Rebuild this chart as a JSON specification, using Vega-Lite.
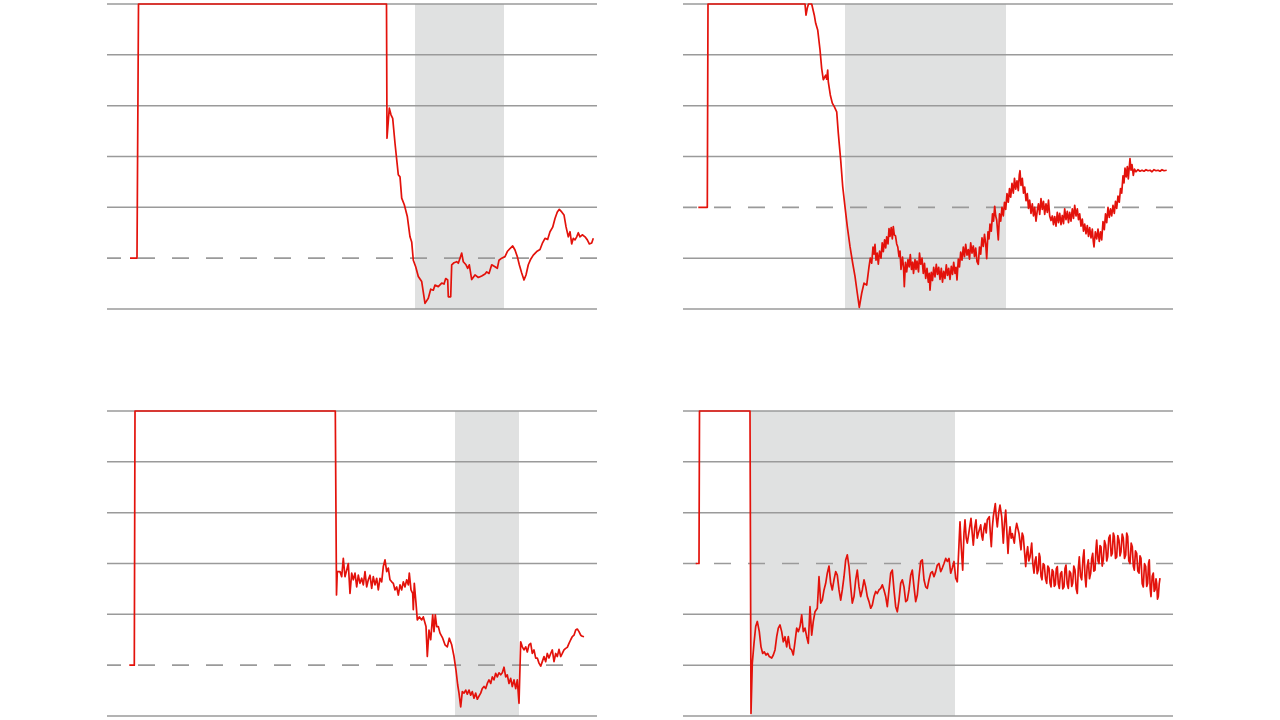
{
"$schema":"https://vega.github.io/schema/vega-lite/v6.json",
"padding":{"left":106,"top":3,"right":0,"bottom":0},
"background":"white",
"config":{"view":{"stroke":null}},
"datasets":{
"tl":[{"d":23,"v":1},{"d":30,"v":1},{"d":31.5,"v":6},{"d":279.5,"v":6},{"d":280,"v":3.36},{"d":282.3,"v":3.95},{"d":284,"v":3.82},{"d":285.7,"v":3.75},{"d":288,"v":3.26},{"d":291.3,"v":2.64},{"d":293,"v":2.6},{"d":294.7,"v":2.18},{"d":297.3,"v":2.05},{"d":300.3,"v":1.82},{"d":303,"v":1.42},{"d":304.7,"v":1.32},{"d":306.3,"v":0.96},{"d":308.7,"v":0.83},{"d":311.3,"v":0.64},{"d":314.7,"v":0.54},{"d":318,"v":0.11},{"d":321.3,"v":0.21},{"d":323.7,"v":0.39},{"d":326.3,"v":0.37},{"d":328,"v":0.47},{"d":331.3,"v":0.44},{"d":334.7,"v":0.51},{"d":337,"v":0.49},{"d":338.7,"v":0.6},{"d":340.7,"v":0.57},{"d":341.3,"v":0.24},{"d":343.7,"v":0.24},{"d":344.7,"v":0.87},{"d":347,"v":0.91},{"d":349.7,"v":0.93},{"d":351.3,"v":0.9},{"d":353,"v":1.0},{"d":354.7,"v":1.1},{"d":356.3,"v":0.93},{"d":359,"v":0.87},{"d":360.7,"v":0.8},{"d":362.3,"v":0.87},{"d":364.7,"v":0.58},{"d":368,"v":0.67},{"d":371.3,"v":0.62},{"d":374.7,"v":0.65},{"d":378,"v":0.69},{"d":379.7,"v":0.73},{"d":382,"v":0.7},{"d":384.7,"v":0.87},{"d":388,"v":0.83},{"d":390.3,"v":0.8},{"d":392,"v":0.96},{"d":394.7,"v":1.0},{"d":398,"v":1.03},{"d":400.3,"v":1.13},{"d":403,"v":1.19},{"d":405.7,"v":1.24},{"d":408,"v":1.16},{"d":410.3,"v":1.03},{"d":412.3,"v":0.87},{"d":414.7,"v":0.71},{"d":417,"v":0.57},{"d":419,"v":0.67},{"d":421.3,"v":0.87},{"d":423.7,"v":0.98},{"d":426.3,"v":1.06},{"d":429.7,"v":1.13},{"d":433,"v":1.17},{"d":435.3,"v":1.29},{"d":438,"v":1.39},{"d":440.7,"v":1.37},{"d":443,"v":1.52},{"d":445.7,"v":1.61},{"d":448,"v":1.78},{"d":450.3,"v":1.91},{"d":452.3,"v":1.96},{"d":454.7,"v":1.91},{"d":457,"v":1.85},{"d":459,"v":1.62},{"d":461.3,"v":1.42},{"d":463,"v":1.52},{"d":464.7,"v":1.28},{"d":466.3,"v":1.39},{"d":468,"v":1.36},{"d":469.7,"v":1.42},{"d":471.3,"v":1.5},{"d":473,"v":1.42},{"d":475.3,"v":1.46},{"d":478,"v":1.42},{"d":480.3,"v":1.36},{"d":482.3,"v":1.28},{"d":484.7,"v":1.3},{"d":486.3,"v":1.39}],
"tr":[{"d":15.3,"v":2},{"d":24.3,"v":2},{"d":25,"v":6},{"d":121.3,"v":6},{"d":122,"v":6},{"d":123,"v":5.78},{"d":124.3,"v":5.92},{"d":125.5,"v":6},{"d":128.7,"v":6},{"d":131.3,"v":5.78},{"d":132.7,"v":5.62},{"d":134.7,"v":5.49},{"d":137,"v":5.1},{"d":138.7,"v":4.73},{"d":140.3,"v":4.51},{"d":142.7,"v":4.6},{"d":143.7,"v":4.52},{"d":144.7,"v":4.7},{"d":145.3,"v":4.47},{"d":147.3,"v":4.21},{"d":149.3,"v":4.05},{"d":151.3,"v":3.98},{"d":153.7,"v":3.88},{"d":155.3,"v":3.46},{"d":157.7,"v":2.93},{"d":159.7,"v":2.41},{"d":162,"v":2.01},{"d":164.3,"v":1.62},{"d":167,"v":1.23},{"d":169.7,"v":0.9},{"d":172,"v":0.64},{"d":174.3,"v":0.31},{"d":176.3,"v":0.03},{"d":178.7,"v":0.31},{"d":181,"v":0.51},{"d":183.7,"v":0.47},{"d":186,"v":0.83},{"d":187.3,"v":1.0},{"d":188.7,"v":0.9},{"d":190,"v":1.22},{"d":191,"v":1.08},{"d":192,"v":1.27},{"d":193,"v":0.96},{"d":194.2,"v":1.1},{"d":195.3,"v":0.88},{"d":196.6,"v":1.14},{"d":198,"v":1.0},{"d":199.2,"v":1.3},{"d":200.3,"v":1.13},{"d":201.6,"v":1.36},{"d":202.7,"v":1.2},{"d":203.7,"v":1.42},{"d":205,"v":1.28},{"d":206,"v":1.58},{"d":207,"v":1.43},{"d":208.2,"v":1.6},{"d":209.3,"v":1.38},{"d":210.3,"v":1.62},{"d":211.3,"v":1.46},{"d":212.5,"v":1.44},{"d":213.7,"v":1.28},{"d":214.8,"v":1.22},{"d":216,"v":1.03},{"d":217,"v":1.14},{"d":218,"v":0.78},{"d":219.5,"v":1.02},{"d":220.5,"v":0.83},{"d":221.3,"v":0.44},{"d":222.5,"v":0.92},{"d":223.7,"v":0.73},{"d":225,"v":0.97},{"d":226.2,"v":0.83},{"d":227.3,"v":1.07},{"d":228.5,"v":0.78},{"d":229.7,"v":0.92},{"d":230.5,"v":0.7},{"d":232,"v":0.97},{"d":233,"v":0.78},{"d":234,"v":0.94},{"d":235.5,"v":0.73},{"d":236.5,"v":1.1},{"d":237.7,"v":0.88},{"d":239,"v":1.0},{"d":240.3,"v":0.7},{"d":241.5,"v":0.9},{"d":242.7,"v":0.6},{"d":244,"v":0.8},{"d":245.3,"v":0.53},{"d":246.3,"v":0.7},{"d":247,"v":0.37},{"d":248.3,"v":0.72},{"d":249.5,"v":0.56},{"d":250.7,"v":0.82},{"d":252,"v":0.63},{"d":253.3,"v":0.88},{"d":254.5,"v":0.68},{"d":255.7,"v":0.82},{"d":257,"v":0.58},{"d":258.3,"v":0.8},{"d":259.5,"v":0.53},{"d":260.7,"v":0.74},{"d":262,"v":0.6},{"d":263.3,"v":0.87},{"d":264.5,"v":0.66},{"d":265.7,"v":0.8},{"d":267,"v":0.58},{"d":268.3,"v":0.84},{"d":269.5,"v":0.68},{"d":270.7,"v":0.92},{"d":272,"v":0.7},{"d":273,"v":0.82},{"d":274,"v":0.57},{"d":275.3,"v":0.98},{"d":276.5,"v":0.83},{"d":277.7,"v":1.12},{"d":279,"v":0.96},{"d":280.3,"v":1.22},{"d":281.5,"v":1.03},{"d":282.7,"v":1.27},{"d":284,"v":1.06},{"d":285.3,"v":1.17},{"d":286.5,"v":0.98},{"d":287.7,"v":1.3},{"d":289,"v":1.1},{"d":290.3,"v":1.24},{"d":291.5,"v":1.03},{"d":292.7,"v":1.2},{"d":294,"v":0.93},{"d":295.3,"v":0.88},{"d":296.5,"v":1.22},{"d":297.7,"v":1.08},{"d":299,"v":1.4},{"d":300.3,"v":1.23},{"d":301.5,"v":1.47},{"d":302.7,"v":1.28},{"d":303.7,"v":0.99},{"d":305,"v":1.52},{"d":306,"v":1.38},{"d":307,"v":1.67},{"d":308.3,"v":1.53},{"d":309.5,"v":1.87},{"d":310.5,"v":1.73},{"d":311.7,"v":2.02},{"d":312.7,"v":1.83},{"d":313.7,"v":1.75},{"d":315.3,"v":1.36},{"d":316.5,"v":1.87},{"d":317.7,"v":1.73},{"d":319,"v":2.0},{"d":320.3,"v":1.83},{"d":321.5,"v":2.1},{"d":322.7,"v":1.96},{"d":324,"v":2.27},{"d":325.3,"v":2.1},{"d":326.5,"v":2.37},{"d":327.7,"v":2.2},{"d":329,"v":2.47},{"d":330.3,"v":2.28},{"d":331.5,"v":2.57},{"d":332.7,"v":2.36},{"d":334,"v":2.52},{"d":335.3,"v":2.33},{"d":336.3,"v":2.64},{"d":337,"v":2.72},{"d":338,"v":2.43},{"d":339.3,"v":2.57},{"d":340.5,"v":2.28},{"d":341.7,"v":2.4},{"d":343,"v":2.13},{"d":344.3,"v":2.27},{"d":345.5,"v":1.98},{"d":346.7,"v":2.14},{"d":348,"v":1.88},{"d":349.3,"v":2.07},{"d":350.5,"v":1.83},{"d":351.7,"v":2.0},{"d":353,"v":1.73},{"d":354.3,"v":1.94},{"d":355.5,"v":2.07},{"d":356.7,"v":1.86},{"d":358,"v":2.17},{"d":359.3,"v":1.96},{"d":360.5,"v":2.12},{"d":361.7,"v":1.86},{"d":363,"v":2.07},{"d":364.3,"v":1.9},{"d":365.5,"v":2.14},{"d":366.7,"v":1.83},{"d":368,"v":1.74},{"d":369.3,"v":1.83},{"d":370.5,"v":1.66},{"d":371.7,"v":1.82},{"d":373,"v":1.63},{"d":374.3,"v":1.9},{"d":375.5,"v":1.7},{"d":376.7,"v":1.88},{"d":378,"v":1.66},{"d":379.3,"v":1.84},{"d":380.5,"v":1.68},{"d":381.7,"v":1.97},{"d":383,"v":1.76},{"d":384.3,"v":1.92},{"d":385.5,"v":1.7},{"d":386.7,"v":1.9},{"d":388,"v":1.73},{"d":389.3,"v":1.97},{"d":390.5,"v":1.78},{"d":391.7,"v":2.04},{"d":393,"v":1.83},{"d":394.3,"v":1.97},{"d":395.5,"v":1.76},{"d":396.7,"v":1.87},{"d":398,"v":1.63},{"d":399.3,"v":1.77},{"d":400.5,"v":1.53},{"d":401.7,"v":1.67},{"d":403,"v":1.48},{"d":404.3,"v":1.64},{"d":405.5,"v":1.43},{"d":406.7,"v":1.6},{"d":408,"v":1.4},{"d":409.3,"v":1.57},{"d":410.3,"v":1.33},{"d":411,"v":1.22},{"d":412.3,"v":1.52},{"d":413.7,"v":1.38},{"d":415,"v":1.57},{"d":416.3,"v":1.33},{"d":417.5,"v":1.52},{"d":418.7,"v":1.36},{"d":420,"v":1.72},{"d":421.3,"v":1.56},{"d":422.5,"v":1.87},{"d":423.7,"v":1.7},{"d":425,"v":2.0},{"d":426.3,"v":1.8},{"d":427.5,"v":1.97},{"d":428.7,"v":1.83},{"d":430,"v":2.04},{"d":431.3,"v":1.88},{"d":432.5,"v":2.12},{"d":433.7,"v":1.98},{"d":435,"v":2.22},{"d":436.3,"v":2.1},{"d":437.5,"v":2.37},{"d":438.7,"v":2.28},{"d":440,"v":2.62},{"d":441,"v":2.48},{"d":442,"v":2.77},{"d":443.2,"v":2.6},{"d":444.3,"v":2.8},{"d":445.3,"v":2.56},{"d":447,"v":2.96},{"d":448,"v":2.73},{"d":449,"v":2.84},{"d":450.3,"v":2.63},{"d":451.5,"v":2.75},{"d":453,"v":2.7},{"d":455,"v":2.74},{"d":457,"v":2.71},{"d":459,"v":2.73},{"d":461,"v":2.71},{"d":463,"v":2.74},{"d":465,"v":2.72},{"d":467,"v":2.73},{"d":469,"v":2.7},{"d":471,"v":2.74},{"d":473,"v":2.72},{"d":475,"v":2.73},{"d":477,"v":2.71},{"d":479,"v":2.74},{"d":481,"v":2.72},{"d":483.7,"v":2.73}],
"bl":[{"d":22.3,"v":1},{"d":27.3,"v":1},{"d":28,"v":6},{"d":228.3,"v":6},{"d":229.5,"v":2.38},{"d":230.3,"v":2.84},{"d":233,"v":2.84},{"d":234.7,"v":2.74},{"d":236.3,"v":3.1},{"d":238,"v":2.74},{"d":239.7,"v":2.87},{"d":241.3,"v":3.0},{"d":243,"v":2.41},{"d":244.7,"v":2.81},{"d":246.3,"v":2.68},{"d":248,"v":2.81},{"d":249.7,"v":2.54},{"d":251.3,"v":2.77},{"d":253,"v":2.61},{"d":254.7,"v":2.71},{"d":256.3,"v":2.58},{"d":258,"v":2.84},{"d":259.7,"v":2.54},{"d":261.3,"v":2.68},{"d":263,"v":2.77},{"d":264.7,"v":2.51},{"d":266.3,"v":2.74},{"d":268,"v":2.58},{"d":269.7,"v":2.71},{"d":271.3,"v":2.48},{"d":273,"v":2.71},{"d":274.7,"v":2.64},{"d":276.3,"v":2.94},{"d":278,"v":3.07},{"d":279.7,"v":2.84},{"d":281.3,"v":2.91},{"d":283,"v":2.68},{"d":284.7,"v":2.64},{"d":286.3,"v":2.61},{"d":288,"v":2.48},{"d":289.7,"v":2.54},{"d":291.3,"v":2.38},{"d":293,"v":2.58},{"d":294.7,"v":2.48},{"d":296.3,"v":2.64},{"d":298,"v":2.54},{"d":299.7,"v":2.68},{"d":301.3,"v":2.58},{"d":302.3,"v":2.81},{"d":304,"v":2.48},{"d":305.7,"v":2.41},{"d":306.3,"v":2.09},{"d":307.3,"v":2.61},{"d":309,"v":2.22},{"d":310.3,"v":1.89},{"d":312.3,"v":1.95},{"d":314.7,"v":1.89},{"d":316.3,"v":1.95},{"d":319,"v":1.76},{"d":320.3,"v":1.17},{"d":322,"v":1.69},{"d":323.7,"v":1.5},{"d":325.7,"v":1.99},{"d":327,"v":1.66},{"d":328.3,"v":1.99},{"d":329.7,"v":1.76},{"d":331.3,"v":1.76},{"d":333,"v":1.63},{"d":335.7,"v":1.53},{"d":338,"v":1.4},{"d":340.3,"v":1.36},{"d":342.3,"v":1.53},{"d":344.7,"v":1.4},{"d":347,"v":1.17},{"d":349,"v":0.9},{"d":350.7,"v":0.61},{"d":352,"v":0.45},{"d":353.7,"v":0.18},{"d":355.3,"v":0.48},{"d":357,"v":0.45},{"d":358.7,"v":0.51},{"d":360.3,"v":0.43},{"d":362,"v":0.51},{"d":363.7,"v":0.41},{"d":365.3,"v":0.48},{"d":367,"v":0.35},{"d":368.7,"v":0.45},{"d":370.3,"v":0.33},{"d":372,"v":0.39},{"d":373.7,"v":0.45},{"d":375.3,"v":0.54},{"d":377,"v":0.58},{"d":378.7,"v":0.54},{"d":380.3,"v":0.64},{"d":382,"v":0.71},{"d":383.7,"v":0.64},{"d":385.3,"v":0.77},{"d":387,"v":0.71},{"d":388.7,"v":0.84},{"d":390.3,"v":0.77},{"d":392,"v":0.85},{"d":393.7,"v":0.81},{"d":395.3,"v":0.85},{"d":397,"v":0.96},{"d":398.7,"v":0.77},{"d":400.3,"v":0.81},{"d":402,"v":0.64},{"d":403.7,"v":0.74},{"d":405.3,"v":0.58},{"d":407,"v":0.71},{"d":408.7,"v":0.54},{"d":410.3,"v":0.71},{"d":412,"v":0.25},{"d":413.7,"v":1.46},{"d":415.3,"v":1.36},{"d":417,"v":1.3},{"d":418.7,"v":1.36},{"d":420.3,"v":1.26},{"d":422,"v":1.4},{"d":423.7,"v":1.43},{"d":425.3,"v":1.23},{"d":427,"v":1.3},{"d":428.7,"v":1.14},{"d":430.3,"v":1.14},{"d":432,"v":1.04},{"d":433.7,"v":0.98},{"d":435.3,"v":1.07},{"d":437,"v":1.17},{"d":438.7,"v":1.07},{"d":440.3,"v":1.23},{"d":442,"v":1.14},{"d":443.7,"v":1.23},{"d":445.3,"v":1.3},{"d":447,"v":1.07},{"d":448.7,"v":1.23},{"d":450.3,"v":1.17},{"d":452,"v":1.31},{"d":453.7,"v":1.17},{"d":455.3,"v":1.23},{"d":457,"v":1.3},{"d":458.7,"v":1.33},{"d":460.3,"v":1.35},{"d":462,"v":1.43},{"d":463.7,"v":1.5},{"d":465.3,"v":1.56},{"d":467,"v":1.59},{"d":468.7,"v":1.69},{"d":470.3,"v":1.71},{"d":472,"v":1.66},{"d":473.7,"v":1.59},{"d":475.3,"v":1.57},{"d":477,"v":1.56}],
"br":[{"d":12.7,"v":3},{"d":16,"v":3},{"d":16.5,"v":6},{"d":67,"v":6},{"d":68,"v":0.05},{"d":69.3,"v":1.04},{"d":71,"v":1.43},{"d":72.7,"v":1.76},{"d":74.3,"v":1.86},{"d":76.3,"v":1.66},{"d":78,"v":1.36},{"d":79.7,"v":1.23},{"d":81.3,"v":1.26},{"d":83,"v":1.2},{"d":84.7,"v":1.23},{"d":86.3,"v":1.17},{"d":88.7,"v":1.14},{"d":90.3,"v":1.2},{"d":92,"v":1.3},{"d":93.7,"v":1.56},{"d":95.3,"v":1.73},{"d":97,"v":1.79},{"d":98.7,"v":1.66},{"d":100.3,"v":1.46},{"d":102,"v":1.56},{"d":103.7,"v":1.36},{"d":105.3,"v":1.56},{"d":107,"v":1.33},{"d":108.7,"v":1.3},{"d":110.3,"v":1.2},{"d":112,"v":1.46},{"d":113.7,"v":1.73},{"d":115.3,"v":1.66},{"d":117,"v":1.76},{"d":118.7,"v":1.99},{"d":120.3,"v":1.66},{"d":122,"v":1.73},{"d":123.7,"v":1.56},{"d":125.3,"v":1.43},{"d":127,"v":2.15},{"d":128.7,"v":1.59},{"d":130.3,"v":1.86},{"d":132,"v":2.05},{"d":134.3,"v":2.12},{"d":136,"v":2.74},{"d":137.7,"v":2.22},{"d":139.3,"v":2.28},{"d":141,"v":2.48},{"d":142.7,"v":2.61},{"d":144.3,"v":2.81},{"d":146,"v":2.95},{"d":147.7,"v":2.61},{"d":149.3,"v":2.48},{"d":151,"v":2.68},{"d":152.7,"v":2.84},{"d":154.3,"v":2.77},{"d":156,"v":2.48},{"d":157.7,"v":2.28},{"d":159.3,"v":2.48},{"d":161,"v":2.74},{"d":162.7,"v":3.07},{"d":164.3,"v":3.17},{"d":166,"v":2.94},{"d":167.7,"v":2.54},{"d":169.3,"v":2.22},{"d":171,"v":2.35},{"d":172.7,"v":2.68},{"d":174.3,"v":2.87},{"d":176,"v":2.54},{"d":177.7,"v":2.35},{"d":179.3,"v":2.48},{"d":181,"v":2.68},{"d":182.7,"v":2.54},{"d":184.3,"v":2.35},{"d":186,"v":2.25},{"d":187.7,"v":2.12},{"d":189.3,"v":2.18},{"d":191,"v":2.35},{"d":192.7,"v":2.45},{"d":194.3,"v":2.41},{"d":196,"v":2.48},{"d":197.7,"v":2.51},{"d":199.3,"v":2.58},{"d":201,"v":2.48},{"d":202.7,"v":2.35},{"d":204.3,"v":2.15},{"d":206,"v":2.48},{"d":207.7,"v":2.81},{"d":209.3,"v":2.87},{"d":211,"v":2.48},{"d":212.7,"v":2.15},{"d":214.3,"v":2.05},{"d":216,"v":2.28},{"d":217.7,"v":2.61},{"d":219.3,"v":2.68},{"d":221,"v":2.54},{"d":222.7,"v":2.25},{"d":224.3,"v":2.28},{"d":226,"v":2.48},{"d":227.7,"v":2.77},{"d":229.3,"v":2.87},{"d":231,"v":2.54},{"d":232.7,"v":2.25},{"d":234.3,"v":2.38},{"d":236,"v":2.74},{"d":237.7,"v":3.04},{"d":239.3,"v":3.07},{"d":241,"v":2.68},{"d":242.7,"v":2.54},{"d":244.3,"v":2.51},{"d":246,"v":2.68},{"d":247.7,"v":2.81},{"d":249.3,"v":2.84},{"d":251,"v":2.74},{"d":252.7,"v":2.84},{"d":254.3,"v":2.97},{"d":256,"v":3.0},{"d":257.7,"v":2.84},{"d":259.3,"v":2.91},{"d":261,"v":3.0},{"d":262.7,"v":3.1},{"d":264.3,"v":3.04},{"d":266,"v":3.1},{"d":267.7,"v":2.81},{"d":269.3,"v":2.91},{"d":271,"v":3.04},{"d":272.7,"v":2.71},{"d":274.3,"v":2.64},{"d":277,"v":3.82},{"d":278.3,"v":3.3},{"d":279.7,"v":2.87},{"d":281,"v":3.6},{"d":282,"v":3.86},{"d":283.2,"v":3.5},{"d":284.3,"v":3.4},{"d":286.3,"v":3.66},{"d":288,"v":3.89},{"d":289.2,"v":3.6},{"d":290.3,"v":3.36},{"d":291.7,"v":3.7},{"d":293,"v":3.86},{"d":294.2,"v":3.5},{"d":295.3,"v":3.59},{"d":297.7,"v":3.76},{"d":298.7,"v":3.55},{"d":299.7,"v":3.46},{"d":301,"v":3.7},{"d":302,"v":3.79},{"d":303.2,"v":3.6},{"d":304.3,"v":3.86},{"d":306.3,"v":3.92},{"d":307.3,"v":3.6},{"d":308.3,"v":3.33},{"d":309.3,"v":3.7},{"d":310.3,"v":3.92},{"d":312.3,"v":4.18},{"d":313.3,"v":3.9},{"d":314.3,"v":3.72},{"d":315.7,"v":4.0},{"d":317,"v":4.15},{"d":318.7,"v":3.92},{"d":320.3,"v":3.4},{"d":321.5,"v":3.8},{"d":322.7,"v":4.05},{"d":325,"v":3.2},{"d":326,"v":3.55},{"d":327,"v":3.72},{"d":328.2,"v":3.5},{"d":329.3,"v":3.59},{"d":331.3,"v":3.4},{"d":332.5,"v":3.65},{"d":333.7,"v":3.79},{"d":336,"v":3.59},{"d":338,"v":3.27},{"d":339.2,"v":3.6},{"d":340.3,"v":3.53},{"d":342.7,"v":2.94},{"d":343.7,"v":3.2},{"d":344.7,"v":3.33},{"d":345.8,"v":3.05},{"d":347,"v":3.13},{"d":348.7,"v":3.4},{"d":349.8,"v":3.0},{"d":351,"v":2.81},{"d":352,"v":3.05},{"d":353,"v":3.13},{"d":354.2,"v":2.8},{"d":355.3,"v":2.87},{"d":356.2,"v":3.2},{"d":357,"v":3.13},{"d":358,"v":2.75},{"d":359,"v":2.68},{"d":360.2,"v":3.0},{"d":361.3,"v":2.97},{"d":362.5,"v":2.7},{"d":363.7,"v":2.61},{"d":364.8,"v":2.95},{"d":366,"v":2.91},{"d":367,"v":2.62},{"d":368,"v":2.54},{"d":369.2,"v":2.88},{"d":370.3,"v":2.84},{"d":371.3,"v":2.55},{"d":372.3,"v":2.58},{"d":373.3,"v":2.9},{"d":374.3,"v":2.94},{"d":375.3,"v":2.6},{"d":376.3,"v":2.51},{"d":377.5,"v":2.8},{"d":378.7,"v":2.84},{"d":379.8,"v":2.5},{"d":381,"v":2.54},{"d":382,"v":2.9},{"d":383,"v":2.97},{"d":384.2,"v":2.6},{"d":385.3,"v":2.51},{"d":386.5,"v":2.85},{"d":387.7,"v":2.81},{"d":388.7,"v":2.55},{"d":389.7,"v":2.61},{"d":390.8,"v":2.95},{"d":392,"v":2.87},{"d":393.2,"v":2.5},{"d":394.3,"v":2.41},{"d":395.3,"v":2.9},{"d":396.3,"v":3.13},{"d":397.5,"v":2.75},{"d":398.7,"v":2.68},{"d":400,"v":3.1},{"d":401,"v":3.27},{"d":402,"v":2.75},{"d":403,"v":2.54},{"d":404.2,"v":2.95},{"d":405.3,"v":3.07},{"d":406.5,"v":2.7},{"d":407.7,"v":2.81},{"d":408.7,"v":3.1},{"d":409.7,"v":3.2},{"d":410.8,"v":2.85},{"d":412,"v":2.87},{"d":413,"v":3.3},{"d":413.7,"v":3.46},{"d":415,"v":3.05},{"d":416,"v":3.0},{"d":417,"v":3.35},{"d":418,"v":3.33},{"d":419.2,"v":2.95},{"d":420.3,"v":3.07},{"d":421.5,"v":3.45},{"d":422.7,"v":3.36},{"d":423.7,"v":3.05},{"d":424.7,"v":3.13},{"d":425.8,"v":3.5},{"d":427,"v":3.56},{"d":428.2,"v":3.15},{"d":429.3,"v":3.2},{"d":430.3,"v":3.6},{"d":431.3,"v":3.53},{"d":432.5,"v":3.1},{"d":433.7,"v":3.13},{"d":434.8,"v":3.55},{"d":436,"v":3.46},{"d":437,"v":3.15},{"d":438,"v":3.23},{"d":439.2,"v":3.58},{"d":440.3,"v":3.5},{"d":441.5,"v":3.1},{"d":442.7,"v":3.17},{"d":443.7,"v":3.6},{"d":444.7,"v":3.53},{"d":445.8,"v":3.05},{"d":447,"v":3.0},{"d":448.2,"v":3.4},{"d":449.3,"v":3.33},{"d":450.3,"v":2.95},{"d":451.3,"v":2.87},{"d":452.5,"v":3.25},{"d":453.7,"v":3.2},{"d":454.8,"v":2.85},{"d":456,"v":2.81},{"d":457,"v":3.15},{"d":458,"v":3.1},{"d":459.2,"v":2.6},{"d":460.3,"v":2.54},{"d":461.5,"v":3.0},{"d":462.7,"v":2.94},{"d":463.7,"v":2.55},{"d":464.7,"v":2.61},{"d":465.5,"v":3.0},{"d":466.3,"v":3.07},{"d":467.2,"v":2.5},{"d":468,"v":2.35},{"d":469.2,"v":2.75},{"d":470.3,"v":2.81},{"d":471.2,"v":2.45},{"d":472,"v":2.48},{"d":473,"v":2.7},{"d":473.7,"v":2.61},{"d":474.5,"v":2.3},{"d":475.3,"v":2.35},{"d":476.2,"v":2.6},{"d":477,"v":2.71}]
},
"concat":[
{"width":490,"height":305,"layer":[
 {"data":{"values":[{"s":308,"e":397}]},"mark":{"type":"rect","color":"#e0e1e1"},"encoding":{"x":{"field":"s","type":"quantitative","scale":{"domain":[0,490],"nice":false,"zero":false},"axis":null},"x2":{"field":"e"}}},
 {"data":{"values":[{"g":0},{"g":2},{"g":3},{"g":4},{"g":5},{"g":6}]},"mark":{"type":"rule","color":"#9a9a9a","strokeWidth":1.5},"encoding":{"y":{"field":"g","type":"quantitative","scale":{"domain":[0,6],"nice":false,"zero":false},"axis":null}}},
 {"data":{"values":[{"g":1}]},"mark":{"type":"rule","color":"#9a9a9a","strokeWidth":1.6,"strokeDash":[17,17]},"encoding":{"y":{"field":"g","type":"quantitative","scale":{"domain":[0,6],"nice":false,"zero":false},"axis":null}}},
 {"data":{"name":"tl"},"mark":{"type":"line","color":"#e3120b","strokeWidth":1.7,"strokeJoin":"round"},"encoding":{"x":{"field":"d","type":"quantitative","scale":{"domain":[0,490],"nice":false,"zero":false},"axis":null},"y":{"field":"v","type":"quantitative","scale":{"domain":[0,6],"nice":false,"zero":false},"axis":null}}}
]},
{"width":490,"height":305,"layer":[
 {"data":{"values":[{"s":162,"e":323}]},"mark":{"type":"rect","color":"#e0e1e1"},"encoding":{"x":{"field":"s","type":"quantitative","scale":{"domain":[0,490],"nice":false,"zero":false},"axis":null},"x2":{"field":"e"}}},
 {"data":{"values":[{"g":0},{"g":1},{"g":3},{"g":4},{"g":5},{"g":6}]},"mark":{"type":"rule","color":"#9a9a9a","strokeWidth":1.5},"encoding":{"y":{"field":"g","type":"quantitative","scale":{"domain":[0,6],"nice":false,"zero":false},"axis":null}}},
 {"data":{"values":[{"g":2}]},"mark":{"type":"rule","color":"#9a9a9a","strokeWidth":1.6,"strokeDash":[17,17]},"encoding":{"y":{"field":"g","type":"quantitative","scale":{"domain":[0,6],"nice":false,"zero":false},"axis":null}}},
 {"data":{"name":"tr"},"mark":{"type":"line","color":"#e3120b","strokeWidth":1.7,"strokeJoin":"round"},"encoding":{"x":{"field":"d","type":"quantitative","scale":{"domain":[0,490],"nice":false,"zero":false},"axis":null},"y":{"field":"v","type":"quantitative","scale":{"domain":[0,6],"nice":false,"zero":false},"axis":null}}}
]},
{"width":490,"height":305,"layer":[
 {"data":{"values":[{"s":348,"e":412}]},"mark":{"type":"rect","color":"#e0e1e1"},"encoding":{"x":{"field":"s","type":"quantitative","scale":{"domain":[0,490],"nice":false,"zero":false},"axis":null},"x2":{"field":"e"}}},
 {"data":{"values":[{"g":0},{"g":2},{"g":3},{"g":4},{"g":5},{"g":6}]},"mark":{"type":"rule","color":"#9a9a9a","strokeWidth":1.5},"encoding":{"y":{"field":"g","type":"quantitative","scale":{"domain":[0,6],"nice":false,"zero":false},"axis":null}}},
 {"data":{"values":[{"g":1}]},"mark":{"type":"rule","color":"#9a9a9a","strokeWidth":1.6,"strokeDash":[17,17]},"encoding":{"y":{"field":"g","type":"quantitative","scale":{"domain":[0,6],"nice":false,"zero":false},"axis":null}}},
 {"data":{"name":"bl"},"mark":{"type":"line","color":"#e3120b","strokeWidth":1.7,"strokeJoin":"round"},"encoding":{"x":{"field":"d","type":"quantitative","scale":{"domain":[0,490],"nice":false,"zero":false},"axis":null},"y":{"field":"v","type":"quantitative","scale":{"domain":[0,6],"nice":false,"zero":false},"axis":null}}}
]},
{"width":490,"height":305,"layer":[
 {"data":{"values":[{"s":68,"e":272}]},"mark":{"type":"rect","color":"#e0e1e1"},"encoding":{"x":{"field":"s","type":"quantitative","scale":{"domain":[0,490],"nice":false,"zero":false},"axis":null},"x2":{"field":"e"}}},
 {"data":{"values":[{"g":0},{"g":1},{"g":2},{"g":4},{"g":5},{"g":6}]},"mark":{"type":"rule","color":"#9a9a9a","strokeWidth":1.5},"encoding":{"y":{"field":"g","type":"quantitative","scale":{"domain":[0,6],"nice":false,"zero":false},"axis":null}}},
 {"data":{"values":[{"g":3}]},"mark":{"type":"rule","color":"#9a9a9a","strokeWidth":1.6,"strokeDash":[17,17]},"encoding":{"y":{"field":"g","type":"quantitative","scale":{"domain":[0,6],"nice":false,"zero":false},"axis":null}}},
 {"data":{"name":"br"},"mark":{"type":"line","color":"#e3120b","strokeWidth":1.7,"strokeJoin":"round"},"encoding":{"x":{"field":"d","type":"quantitative","scale":{"domain":[0,490],"nice":false,"zero":false},"axis":null},"y":{"field":"v","type":"quantitative","scale":{"domain":[0,6],"nice":false,"zero":false},"axis":null}}}
]}
],
"columns":2,
"spacing":{"row":102,"column":86},
"bounds":"flush"
}
